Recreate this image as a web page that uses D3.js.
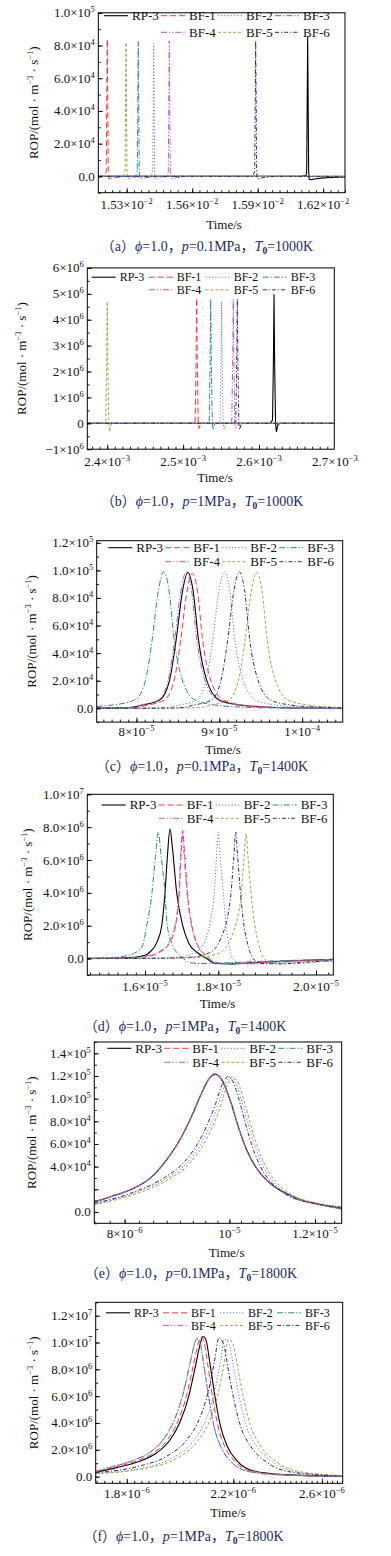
<!DOCTYPE html>
<html>
<head>
<meta charset="utf-8">
<script src="https://cdn.jsdelivr.net/npm/d3@7"></script>
<style>
body{margin:0;background:#fff;}
svg{display:block;}
svg text{font-family:"Liberation Serif","Times New Roman",Times,serif;}
svg text tspan.cjk{font-family:"Noto Sans CJK SC","Liberation Serif",serif;}
</style>
</head>
<body>
<svg id="fig" width="391" height="1556"></svg>
<script>
//----------------------------------------------------------------------------------------------------------------------------
//SERIES
//----------------------------------------------------------------------------------------------------------------------------
var names  = ["RP-3", "BF-1", "BF-2", "BF-3", "BF-4", "BF-5", "BF-6"];
var colors = ["#000000", "#f03c3c", "#5a78dc", "#2e8b7e", "#b35cc9", "#a6a24a", "#2c2c6c"];
var dashes = [null, "6,3", "1.2,2", "6,2,1.2,2", "6,2,1.2,2,1.2,2", "3,2", "4,2,1.2,2"];

//----------------------------------------------------------------------------------------------------------------------------
//DATA  (time in s, ROP in mol/(m3 s))
//----------------------------------------------------------------------------------------------------------------------------
// (a) 0.1MPa 1000K
var a_rp3 = [[1.517e-2,0],[1.6100e-2,0],[1.6122e-2,600],[1.61245e-2,4000],[1.6127e-2,50000],[1.6129e-2,85400],[1.6131e-2,50000],[1.61335e-2,3000],[1.6136e-2,-1800],[1.6145e-2,-2000],[1.616e-2,-1600],[1.619e-2,-1100],[1.623e-2,-700],[1.630e-2,-300]];
var a_bf1 = [[1.517e-2,0],[1.5195e-2,0],[1.5204e-2,1500],[1.52066e-2,4000],[1.5209e-2,50000],[1.52111e-2,83800],[1.5213e-2,50000],[1.52156e-2,2500],[1.5218e-2,-1200],[1.5227e-2,-1500],[1.5245e-2,-800],[1.528e-2,-200],[1.532e-2,0],[1.630e-2,0]];
var a_bf2 = [[1.517e-2,0],[1.5412e-2,0],[1.54192e-2,3000],[1.5422e-2,48000],[1.54237e-2,81300],[1.5426e-2,48000],[1.54282e-2,2500],[1.5431e-2,-1100],[1.544e-2,-1400],[1.5457e-2,-700],[1.5495e-2,-150],[1.554e-2,0],[1.630e-2,0]];
var a_bf3 = [[1.517e-2,0],[1.5341e-2,0],[1.53486e-2,3000],[1.5351e-2,48000],[1.53531e-2,82300],[1.5355e-2,48000],[1.53576e-2,2500],[1.536e-2,-1200],[1.5369e-2,-1500],[1.5386e-2,-800],[1.5425e-2,-150],[1.547e-2,0],[1.630e-2,0]];
var a_bf4 = [[1.517e-2,0],[1.5483e-2,0],[1.54906e-2,3000],[1.5493e-2,48000],[1.54951e-2,82900],[1.5497e-2,48000],[1.54996e-2,2500],[1.5502e-2,-1200],[1.5511e-2,-1500],[1.5528e-2,-800],[1.5566e-2,-150],[1.561e-2,0],[1.630e-2,0]];
var a_bf5 = [[1.517e-2,0],[1.5285e-2,0],[1.52925e-2,3000],[1.5295e-2,48000],[1.5297e-2,81700],[1.5299e-2,48000],[1.53015e-2,2500],[1.5304e-2,-1100],[1.5313e-2,-1400],[1.533e-2,-700],[1.537e-2,-150],[1.541e-2,0],[1.630e-2,0]];
var a_bf6 = [[1.517e-2,0],[1.5879e-2,0],[1.58863e-2,3000],[1.5889e-2,48000],[1.58908e-2,82900],[1.5893e-2,48000],[1.58953e-2,2500],[1.5898e-2,-1200],[1.5907e-2,-1500],[1.5924e-2,-800],[1.5962e-2,-150],[1.6e-2,0],[1.630e-2,0]];
var a_xticks = [1.53e-2, 1.56e-2, 1.59e-2, 1.62e-2];
var a_xlabels = [["1.53","−2"],["1.56","−2"],["1.59","−2"],["1.62","−2"]];
var a_yticks = [0, 2e4, 4e4, 6e4, 8e4, 1e5];
var a_ylabels = [["0.0",null],["2.0","4"],["4.0","4"],["6.0","4"],["8.0","4"],["1.0","5"]];

// (b) 1MPa 1000K
var b_rp3 = [[2.373e-3,0],[2.6148e-3,0],[2.6178e-3,0.12e6],[2.6190e-3,2.4e6],[2.6198e-3,4.98e6],[2.6206e-3,2.4e6],[2.6218e-3,0],[2.6230e-3,-0.33e6],[2.6248e-3,-0.05e6],[2.628e-3,0],[2.70e-3,0]];
var b_bf1 = [[2.373e-3,0],[2.5129e-3,0],[2.5159e-3,0.05e6],[2.5171e-3,2.4e6],[2.5179e-3,4.83e6],[2.5187e-3,2.4e6],[2.5199e-3,0],[2.5211e-3,-0.2e6],[2.5229e-3,-0.03e6],[2.526e-3,0],[2.70e-3,0]];
var b_bf2 = [[2.373e-3,0],[2.5458e-3,0],[2.5488e-3,0.05e6],[2.5500e-3,2.3e6],[2.5508e-3,4.70e6],[2.5516e-3,2.3e6],[2.5528e-3,0],[2.5540e-3,-0.22e6],[2.5558e-3,-0.03e6],[2.559e-3,0],[2.70e-3,0]];
var b_bf3 = [[2.373e-3,0],[2.5314e-3,0],[2.5344e-3,0.05e6],[2.5356e-3,2.4e6],[2.5364e-3,4.80e6],[2.5372e-3,2.4e6],[2.5384e-3,0],[2.5396e-3,-0.25e6],[2.5414e-3,-0.03e6],[2.5445e-3,0],[2.70e-3,0]];
var b_bf4 = [[2.373e-3,0],[2.5611e-3,0],[2.5641e-3,0.05e6],[2.5653e-3,2.4e6],[2.5661e-3,4.80e6],[2.5669e-3,2.4e6],[2.5681e-3,0],[2.5693e-3,-0.22e6],[2.5711e-3,-0.03e6],[2.5742e-3,0],[2.70e-3,0]];
var b_bf5 = [[2.373e-3,0],[2.3951e-3,0],[2.3981e-3,0.05e6],[2.3993e-3,2.3e6],[2.4001e-3,4.69e6],[2.4009e-3,2.3e6],[2.4021e-3,0],[2.4033e-3,-0.33e6],[2.4051e-3,-0.05e6],[2.4082e-3,0],[2.70e-3,0]];
var b_bf6 = [[2.373e-3,0],[2.5664e-3,0],[2.5694e-3,0.05e6],[2.5706e-3,2.4e6],[2.5714e-3,4.80e6],[2.5722e-3,2.4e6],[2.5734e-3,0],[2.5746e-3,-0.25e6],[2.5764e-3,-0.03e6],[2.5795e-3,0],[2.70e-3,0]];
var b_xticks = [2.4e-3, 2.5e-3, 2.6e-3, 2.7e-3];
var b_xlabels = [["2.4","−3"],["2.5","−3"],["2.6","−3"],["2.7","−3"]];
var b_yticks = [-1e6, 0, 1e6, 2e6, 3e6, 4e6, 5e6, 6e6];
var b_ylabels = [["−1","6"],["0",null],["1","6"],["2","6"],["3","6"],["4","6"],["5","6"],["6","6"]];

// (c) 0.1MPa 1400K
var c_rp3 = [[7.52e-5,200],[7.896e-5,500],[8.076e-5,2400],[8.28e-5,6000],[8.40e-5,20500],[8.48e-5,50000],[8.556e-5,85000],[8.619e-5,98500],[8.682e-5,86000],[8.748e-5,50000],[8.844e-5,21000],[9.0e-5,6000],[9.24e-5,2400],[9.6e-5,800],[1.0e-4,200],[1.049e-4,0]];
var c_bf1 = [[7.52e-5,100],[7.952e-5,400],[8.132e-5,2300],[8.336e-5,5900],[8.456e-5,20500],[8.533e-5,49000],[8.608e-5,84000],[8.672e-5,98000],[8.736e-5,85000],[8.80e-5,49000],[8.896e-5,20500],[9.052e-5,5900],[9.292e-5,2300],[9.632e-5,800],[1.0052e-4,200],[1.049e-4,-200]];
var c_bf2 = [[7.52e-5,0],[8.0e-5,100],[8.34e-5,400],[8.52e-5,2400],[8.724e-5,6000],[8.844e-5,21000],[8.921e-5,49500],[8.996e-5,85000],[9.06e-5,99000],[9.124e-5,86000],[9.188e-5,49500],[9.284e-5,21000],[9.44e-5,6000],[9.68e-5,2400],[1.002e-4,800],[1.049e-4,0]];
var c_bf3 = [[7.52e-5,1200],[7.608e-5,1800],[7.788e-5,3000],[7.992e-5,6500],[8.112e-5,21000],[8.189e-5,49500],[8.264e-5,85000],[8.328e-5,99000],[8.392e-5,86000],[8.456e-5,49500],[8.552e-5,21000],[8.708e-5,6000],[8.948e-5,2400],[9.288e-5,800],[9.708e-5,200],[1.049e-4,-200]];
var c_bf4 = [[7.52e-5,150],[7.88e-5,400],[8.06e-5,2400],[8.264e-5,6000],[8.384e-5,21000],[8.461e-5,49500],[8.536e-5,85000],[8.60e-5,99000],[8.664e-5,86000],[8.728e-5,49500],[8.824e-5,21000],[8.98e-5,6000],[9.22e-5,2400],[9.56e-5,800],[9.98e-5,200],[1.049e-4,-200]];
var c_bf5 = [[7.52e-5,0],[8.4e-5,100],[8.73e-5,400],[8.91e-5,2400],[9.114e-5,6000],[9.234e-5,21000],[9.311e-5,49500],[9.386e-5,85000],[9.45e-5,98500],[9.514e-5,86000],[9.578e-5,49500],[9.674e-5,21000],[9.83e-5,6000],[1.007e-4,2400],[1.041e-4,800],[1.049e-4,650]];
var c_bf6 = [[7.52e-5,0],[8.2e-5,100],[8.52e-5,400],[8.70e-5,2400],[8.904e-5,6000],[9.024e-5,21000],[9.101e-5,49500],[9.176e-5,85000],[9.24e-5,99000],[9.304e-5,86000],[9.368e-5,49500],[9.464e-5,21000],[9.62e-5,6000],[9.86e-5,2400],[1.02e-4,800],[1.049e-4,200]];
var c_xticks = [8e-5, 9e-5, 1e-4];
var c_xlabels = [["8","−5"],["9","−5"],["1","−4"]];
var c_yticks = [0, 2e4, 4e4, 6e4, 8e4, 1e5, 1.2e5];
var c_ylabels = [["0.0",null],["2.0","4"],["4.0","4"],["6.0","4"],["8.0","4"],["1.0","5"],["1.2","5"]];

// (d) 1MPa 1400K  (the printed time axis is stretched beyond 1.8e-5)
var d_rp3 = [[1.4426e-5,1e4],[1.5045e-5,2e4],[1.5591e-5,6e4],[1.6e-5,2e5],[1.6136e-5,4e5],[1.6327e-5,1.0e6],[1.6456e-5,2.0e6],[1.6546e-5,4.0e6],[1.6614e-5,6.3e6],[1.6682e-5,7.9e6],[1.675e-5,6.7e6],[1.6865e-5,4.0e6],[1.7029e-5,2.0e6],[1.7201e-5,0.9e6],[1.7411e-5,0.4e6],[1.7684e-5,0],[1.791e-5,-0.3e6],[1.82395e-5,-0.32e6],[1.88536e-5,-0.22e6],[1.96725e-5,-0.12e6],[2.03542e-5,-0.05e6]];
var d_bf1 = [[1.4426e-5,5e3],[1.5591e-5,3e4],[1.6136e-5,1.5e5],[1.6409e-5,4e5],[1.6628e-5,8e5],[1.6791e-5,1.6e6],[1.6873e-5,2.5e6],[1.6936e-5,4.0e6],[1.6982e-5,6.2e6],[1.7029e-5,7.8e6],[1.7078e-5,6.5e6],[1.716e-5,4.0e6],[1.7282e-5,2.0e6],[1.7446e-5,0.8e6],[1.7664e-5,0.2e6],[1.7883e-5,-0.2e6],[1.81372e-5,-0.3e6],[1.86489e-5,-0.28e6],[1.94678e-5,-0.15e6],[2.03542e-5,-0.06e6]];
var d_bf2 = [[1.4426e-5,0],[1.6136e-5,2e4],[1.6819e-5,8e4],[1.7228e-5,2.5e5],[1.7501e-5,6e5],[1.7692e-5,1.4e6],[1.7801e-5,2.5e6],[1.7891e-5,4.0e6],[1.7951e-5,6.2e6],[1.8e-5,7.7e6],[1.80348e-5,6.3e6],[1.81024e-5,4.0e6],[1.81576e-5,2.0e6],[1.8219e-5,0.8e6],[1.83009e-5,0],[1.84442e-5,-0.3e6],[1.87513e-5,-0.33e6],[1.94678e-5,-0.22e6],[2.03542e-5,-0.1e6]];
var d_bf3 = [[1.4426e-5,2e4],[1.5045e-5,6e4],[1.5454e-5,1.5e5],[1.5727e-5,3.5e5],[1.5918e-5,7e5],[1.6046e-5,2.0e6],[1.6191e-5,4.0e6],[1.6286e-5,6.2e6],[1.6363e-5,7.7e6],[1.6437e-5,6.3e6],[1.6546e-5,4.0e6],[1.6608e-5,2.0e6],[1.6737e-5,0.9e6],[1.7001e-5,0.1e6],[1.7228e-5,-0.25e6],[1.7501e-5,-0.3e6],[1.82395e-5,-0.25e6],[1.90584e-5,-0.15e6],[2.03542e-5,-0.05e6]];
var d_bf4 = [[1.4426e-5,5e3],[1.5591e-5,4e4],[1.6136e-5,2e5],[1.6409e-5,4.5e5],[1.6628e-5,9e5],[1.6791e-5,1.8e6],[1.6873e-5,2.7e6],[1.6928e-5,4.2e6],[1.6974e-5,6.3e6],[1.7015e-5,7.7e6],[1.7064e-5,6.4e6],[1.7146e-5,4.0e6],[1.7269e-5,2.0e6],[1.7432e-5,0.8e6],[1.7637e-5,0.2e6],[1.7855e-5,-0.2e6],[1.81167e-5,-0.3e6],[1.86489e-5,-0.27e6],[1.94678e-5,-0.15e6],[2.03542e-5,-0.06e6]];
var d_bf5 = [[1.4426e-5,0],[1.6682e-5,2e4],[1.7501e-5,8e4],[1.791e-5,2.5e5],[1.81372e-5,6e5],[1.82805e-5,1.4e6],[1.8393e-5,2.5e6],[1.84749e-5,4.0e6],[1.85261e-5,6.2e6],[1.8567e-5,7.6e6],[1.8608e-5,6.2e6],[1.86694e-5,4.0e6],[1.87513e-5,2.0e6],[1.88332e-5,0.8e6],[1.89355e-5,0],[1.90993e-5,-0.3e6],[1.94678e-5,-0.32e6],[2.00819e-5,-0.2e6],[2.03542e-5,-0.15e6]];
var d_bf6 = [[1.4426e-5,0],[1.6409e-5,2e4],[1.7228e-5,8e4],[1.7637e-5,2.5e5],[1.791e-5,6e5],[1.80757e-5,1.4e6],[1.81883e-5,2.5e6],[1.826e-5,4.0e6],[1.83173e-5,6.2e6],[1.83562e-5,7.7e6],[1.8393e-5,6.3e6],[1.84545e-5,4.0e6],[1.85261e-5,2.0e6],[1.8608e-5,0.8e6],[1.87103e-5,0],[1.88946e-5,-0.3e6],[1.92631e-5,-0.32e6],[1.98772e-5,-0.2e6],[2.03542e-5,-0.12e6]];
var d_xticks = [1.6e-5, 1.8e-5, 2.0e-5];
var d_xlabels = [["1.6","−5"],["1.8","−5"],["2.0","−5"]];
var d_yticks = [0, 2e6, 4e6, 6e6, 8e6, 1e7];
var d_ylabels = [["0.0",null],["2.0","6"],["4.0","6"],["6.0","6"],["8.0","6"],["1.0","7"]];

// (e) 0.1MPa 1800K
var e_rp3 = [[7.5e-6,8900],[7.754e-6,13300],[8.15e-6,20800],[8.444e-6,29600],[8.748e-6,46000],[9.0e-6,63700],[9.226e-6,84400],[9.426e-6,105000],[9.594e-6,118600],[9.696e-6,121500],[9.835e-6,117000],[1.0011e-5,99300],[1.0189e-5,75600],[1.0373e-5,54900],[1.0596e-5,38600],[1.0824e-5,28200],[1.1214e-5,17800],[1.162e-5,11000],[1.2039e-5,7400],[1.2696e-5,3000]];
var e_bf1 = [[7.5e-6,9200],[7.754e-6,13500],[8.15e-6,21000],[8.444e-6,29800],[8.748e-6,46300],[9.0e-6,64000],[9.226e-6,84800],[9.426e-6,105500],[9.594e-6,119200],[9.696e-6,122000],[9.835e-6,117300],[1.0011e-5,99300],[1.0189e-5,75400],[1.0373e-5,54700],[1.0596e-5,38400],[1.0824e-5,28000],[1.1214e-5,17600],[1.162e-5,10900],[1.2039e-5,7200],[1.2696e-5,2800]];
var e_bf2 = [[7.5e-6,7000],[8.15e-6,16300],[8.748e-6,29600],[9.129e-6,43000],[9.458e-6,63700],[9.731e-6,90400],[9.905e-6,112600],[1.0011e-5,119500],[1.0118e-5,115600],[1.0298e-5,93300],[1.0484e-5,66700],[1.0709e-5,43000],[1.0977e-5,26700],[1.1375e-5,14800],[1.2039e-5,7400],[1.2696e-5,4400]];
var e_bf3 = [[7.5e-6,8700],[7.754e-6,13100],[8.15e-6,20600],[8.444e-6,29400],[8.748e-6,45800],[9.0e-6,63500],[9.226e-6,84200],[9.426e-6,104800],[9.594e-6,118300],[9.696e-6,121000],[9.835e-6,116600],[1.0011e-5,98800],[1.0189e-5,75000],[1.0373e-5,54300],[1.0596e-5,38000],[1.0824e-5,27600],[1.1214e-5,17200],[1.162e-5,10500],[1.2039e-5,6900],[1.2696e-5,2500]];
var e_bf4 = [[7.5e-6,8800],[7.754e-6,13200],[8.15e-6,20700],[8.444e-6,29500],[8.748e-6,45900],[9.0e-6,63600],[9.226e-6,84300],[9.426e-6,104900],[9.594e-6,118400],[9.696e-6,121200],[9.835e-6,116800],[1.0011e-5,99000],[1.0189e-5,75200],[1.0373e-5,54500],[1.0596e-5,38200],[1.0824e-5,27800],[1.1214e-5,17400],[1.162e-5,10700],[1.2039e-5,7000],[1.2696e-5,2600]];
var e_bf5 = [[7.5e-6,6500],[8.185e-6,15800],[8.785e-6,28800],[9.168e-6,42000],[9.498e-6,62000],[9.772e-6,88500],[9.947e-6,111000],[1.0054e-5,119000],[1.0161e-5,116000],[1.0342e-5,94500],[1.0529e-5,68000],[1.0755e-5,44000],[1.1024e-5,27500],[1.1423e-5,15200],[1.209e-5,7600],[1.2696e-5,4600]];
var e_bf6 = [[7.5e-6,7500],[8.115e-6,16800],[8.711e-6,30500],[9.09e-6,44500],[9.418e-6,66000],[9.69e-6,93000],[9.863e-6,114000],[9.968e-6,119500],[1.0075e-5,115000],[1.0254e-5,92000],[1.0439e-5,65000],[1.0663e-5,41500],[1.093e-5,26000],[1.1327e-5,14500],[1.1988e-5,7400],[1.2696e-5,4200]];
var e_xticks = [8e-6, 1e-5, 1.2e-5];
var e_xlabels = [["8","−6"],[null,"−5"],["1.2","−5"]];
var e_yticks = [0, 2e4, 4e4, 6e4, 8e4, 1e5, 1.2e5, 1.4e5];
var e_ylabels = [["0.0",null], null, ["4.0","4"],["6.0","4"],["8.0","4"],["1.0","5"],["1.2","5"],["1.4","5"]];

// (f) 1MPa 1800K
var f_rp3 = [[1.6974e-6,3.4e5],[1.7661e-6,6.7e5],[1.8457e-6,1.16e6],[1.905e-6,1.78e6],[1.9539e-6,2.77e6],[1.9911e-6,4.13e6],[2.0227e-6,5.99e6],[2.0483e-6,8.22e6],[2.0679e-6,9.96e6],[2.0768e-6,1.045e7],[2.0875e-6,1.03e7],[2.1073e-6,8.2e6],[2.1273e-6,5.75e6],[2.1475e-6,3.76e6],[2.175e-6,2.27e6],[2.2165e-6,1.16e6],[2.2872e-6,4.2e5],[2.421e-6,1.5e5],[2.7039e-6,2e4]];
var f_bf1 = [[1.6974e-6,3.6e5],[1.7584e-6,6.9e5],[1.8377e-6,1.2e6],[1.8967e-6,1.82e6],[1.9454e-6,2.8e6],[1.9825e-6,4.15e6],[2.0139e-6,6.0e6],[2.0394e-6,8.2e6],[2.0589e-6,9.9e6],[2.0678e-6,1.04e7],[2.0784e-6,1.025e7],[2.0982e-6,8.15e6],[2.1181e-6,5.7e6],[2.1382e-6,3.7e6],[2.1656e-6,2.22e6],[2.2069e-6,1.13e6],[2.2773e-6,4.1e5],[2.4105e-6,1.5e5],[2.7039e-6,2e4]];
var f_bf2 = [[1.6974e-6,2.3e5],[1.8657e-6,7e5],[1.9625e-6,1.4e6],[2.0385e-6,2.6e6],[2.0903e-6,4.3e6],[2.1233e-6,6.3e6],[2.1476e-6,8.6e6],[2.1639e-6,1.025e7],[2.182e-6,9.9e6],[2.2053e-6,7.75e6],[2.2262e-6,5.8e6],[2.2546e-6,3.8e6],[2.2978e-6,2.3e6],[2.3714e-6,1.06e6],[2.4785e-6,3.5e5],[2.7039e-6,6e4]];
var f_bf3 = [[1.6974e-6,3.8e5],[1.7462e-6,7e5],[1.8249e-6,1.22e6],[1.8835e-6,1.85e6],[1.9318e-6,2.85e6],[1.9686e-6,4.2e6],[1.9999e-6,6.05e6],[2.0252e-6,8.2e6],[2.0446e-6,9.85e6],[2.0534e-6,1.03e7],[2.0639e-6,1.015e7],[2.0835e-6,8.05e6],[2.1033e-6,5.6e6],[2.1232e-6,3.62e6],[2.1504e-6,2.18e6],[2.1915e-6,1.1e6],[2.2614e-6,4e5],[2.3937e-6,1.4e5],[2.7039e-6,1e4]];
var f_bf4 = [[1.6974e-6,3.9e5],[1.7462e-6,7.2e5],[1.8249e-6,1.24e6],[1.8835e-6,1.87e6],[1.9318e-6,2.88e6],[1.9686e-6,4.25e6],[1.9999e-6,6.1e6],[2.0252e-6,8.25e6],[2.044e-6,9.85e6],[2.052e-6,1.028e7],[2.063e-6,1.01e7],[2.0835e-6,8.0e6],[2.1033e-6,5.55e6],[2.1232e-6,3.6e6],[2.1504e-6,2.16e6],[2.1915e-6,1.09e6],[2.2614e-6,3.9e5],[2.3937e-6,1.3e5],[2.7039e-6,1e4]];
var f_bf5 = [[1.6974e-6,2.2e5],[1.8788e-6,6.8e5],[1.9762e-6,1.35e6],[2.0528e-6,2.55e6],[2.105e-6,4.2e6],[2.1382e-6,6.2e6],[2.1626e-6,8.5e6],[2.1791e-6,1.025e7],[2.1973e-6,9.95e6],[2.2208e-6,7.9e6],[2.2418e-6,5.95e6],[2.2704e-6,3.9e6],[2.3139e-6,2.35e6],[2.388e-6,1.08e6],[2.4959e-6,3.6e5],[2.7039e-6,7e4]];
var f_bf6 = [[1.6974e-6,2.9e5],[1.8457e-6,8e5],[1.9414e-6,1.53e6],[2.0166e-6,2.77e6],[2.0679e-6,4.5e6],[2.1005e-6,6.49e6],[2.1245e-6,8.72e6],[2.1407e-6,1.035e7],[2.1586e-6,9.96e6],[2.1816e-6,7.73e6],[2.2023e-6,5.75e6],[2.2304e-6,3.76e6],[2.2731e-6,2.27e6],[2.3459e-6,1.04e6],[2.4519e-6,3.4e5],[2.7039e-6,4e4]];
var f_xticks = [1.8e-6, 2.2e-6, 2.6e-6];
var f_xlabels = [["1.8","−6"],["2.2","−6"],["2.6","−6"]];
var f_yticks = [0, 2e6, 4e6, 6e6, 8e6, 1e7, 1.2e7];
var f_ylabels = [["0.0",null],["2.0","6"],["4.0","6"],["6.0","6"],["8.0","6"],["1.0","7"],["1.2","7"]];

//----------------------------------------------------------------------------------------------------------------------------
//PANEL LAYOUT
//----------------------------------------------------------------------------------------------------------------------------
function minor(start, step, stop){
	return d3.range(0, Math.round((stop - start) / step) + 1).map(function(i){ return start + i * step; });
}

var panels = [
	{id:"a", box:[98.3, 345, 12.8, 192.7], log:false, xDomain:[1.517e-2, 1.630e-2], yDomain:[-1e4, 1e5],
	 xTicks:a_xticks, xLabels:a_xlabels, xMinor:minor(1.52e-2, 1e-4/3, 1.63e-2), yTicks:a_yticks, yLabels:a_ylabels, yMinor:minor(-1e4, 1e4, 1e5),
	 series:[a_rp3, a_bf1, a_bf2, a_bf3, a_bf4, a_bf5, a_bf6], curve:d3.curveLinear,
	 leg:[104, 15.7, 16.6], xLabY:209.2, xTitle:[224, 229], yTitleX:37.5, cap:[207, 251], letter:"a", p:"0.1", T:"1000"},
	{id:"b", box:[87.3, 334.3, 267.9, 449.2], log:false, xDomain:[2.3738e-3, 2.6992e-3], yDomain:[-1e6, 6e6],
	 xTicks:b_xticks, xLabels:b_xlabels, xMinor:minor(2.38e-3, 1e-5, 2.69e-3), yTicks:b_yticks, yLabels:b_ylabels, yMinor:minor(-1e6, 5e5, 6e6),
	 series:[b_rp3, b_bf1, b_bf2, b_bf3, b_bf4, b_bf5, b_bf6], curve:d3.curveLinear,
	 leg:[91.7, 277.2, 12.6], xLabY:466, xTitle:[215, 482], yTitleX:26.2, cap:[202, 506], letter:"b", p:"1", T:"1000"},
	{id:"c", box:[96.7, 342.7, 540.7, 722.1], log:false, xDomain:[7.52e-5, 1.049e-4], yDomain:[-1e4, 1.215e5],
	 xTicks:c_xticks, xLabels:c_xlabels, xMinor:minor(7.6e-5, 1e-6, 1.04e-4), yTicks:c_yticks, yLabels:c_ylabels, yMinor:minor(-1e4, 1e4, 1.2e5),
	 series:[c_rp3, c_bf1, c_bf2, c_bf3, c_bf4, c_bf5, c_bf6], curve:d3.curveMonotoneX,
	 leg:[108.3, 547.7, 14], xLabY:736, xTitle:[223, 754], yTitleX:36.2, cap:[202, 771], letter:"c", p:"0.1", T:"1400"},
	{id:"d", box:[87.3, 333.3, 794.3, 975], log:false, xDomain:[1.4426e-5, 1.8e-5, 2.03542e-5], xRange:[87.3, 218.3, 333.3], yDomain:[-1e6, 1e7],
	 xTicks:d_xticks, xLabels:d_xlabels, xMinor:minor(1.45e-5, 2.5e-7, 2.025e-5), yTicks:d_yticks, yLabels:d_ylabels, yMinor:minor(-1e6, 1e6, 1e7),
	 series:[d_rp3, d_bf1, d_bf2, d_bf3, d_bf4, d_bf5, d_bf6], curve:d3.curveMonotoneX,
	 leg:[101.7, 805, 13.3], xLabY:991, xTitle:[217.5, 1008], yTitleX:31.8, cap:[185, 1031], letter:"d", p:"1", T:"1400"},
	{id:"e", box:[94.3, 341.7, 1042, 1223.3], log:true, xDomain:[7.5e-6, 1.27e-5], yDomain:[-1e4, 1.5e5],
	 xTicks:e_xticks, xLabels:e_xlabels, xMinor:minor(7.5e-6, 2.5e-7, 1.25e-5), yTicks:e_yticks, yLabels:e_ylabels, yMinor:minor(-1e4, 1e4, 1.5e5),
	 series:[e_rp3, e_bf1, e_bf2, e_bf3, e_bf4, e_bf5, e_bf6], curve:d3.curveMonotoneX,
	 leg:[107.3, 1048.3, 14], xLabY:1237.5, xTitle:[226.7, 1257], yTitleX:36.2, cap:[191, 1278], letter:"e", p:"0.1", T:"1800"},
	{id:"f", box:[95.7, 342.7, 1302.3, 1483.3], log:true, xDomain:[1.6974e-6, 2.7039e-6], yDomain:[-5e5, 1.3e7],
	 xTicks:f_xticks, xLabels:f_xlabels, xMinor:minor(1.7e-6, 2.5e-8, 2.7e-6), yTicks:f_yticks, yLabels:f_ylabels, yMinor:minor(0, 1e6, 1.3e7),
	 series:[f_rp3, f_bf1, f_bf2, f_bf3, f_bf4, f_bf5, f_bf6], curve:d3.curveMonotoneX,
	 leg:[106, 1312.8, 12.6], xLabY:1497.5, xTitle:[228, 1517], yTitleX:37.8, cap:[183.5, 1541], letter:"f", p:"1", T:"1800"}
];

//----------------------------------------------------------------------------------------------------------------------------
//DRAWING
//----------------------------------------------------------------------------------------------------------------------------
var svg = d3.select("#fig");

function powerLabel(sel, lab){
	if (lab[1] === null) { sel.text(lab[0]); return; }
	sel.append("tspan").text(lab[0] === null ? "10" : lab[0] + "×10");
	sel.append("tspan").attr("dy", -5).attr("font-size", 8.5).text(lab[1]);
}

function drawPanel(p){
	var L = p.box[0], R = p.box[1], T = p.box[2], B = p.box[3];
	var xEnd = p.xDomain[p.xDomain.length - 1];
	var x = (p.log ? d3.scaleLog() : d3.scaleLinear()).domain(p.xDomain).range(p.xRange || [L, R]);
	var y = d3.scaleLinear().domain(p.yDomain).range([B, T]);
	var g = svg.append("g").attr("class", "panel-" + p.id);

	svg.append("clipPath").attr("id", "clip-" + p.id)
		.append("rect").attr("x", L).attr("y", T).attr("width", R - L).attr("height", B - T);

	var line = d3.line().x(function(d){ return x(d[0]); }).y(function(d){ return y(d[1]); }).curve(p.curve);
	var lines = g.append("g").attr("clip-path", "url(#clip-" + p.id + ")");
	p.series.forEach(function(s, i){
		lines.append("path").datum(s)
			.attr("d", line)
			.attr("fill", "none")
			.attr("stroke", colors[i])
			.attr("stroke-width", i === 0 ? 1.1 : 1)
			.attr("stroke-dasharray", dashes[i]);
	});

	// axes: ticks inward
	var gxMin = g.append("g").attr("transform", "translate(0," + B + ")")
		.call(d3.axisBottom(x).tickValues(p.xMinor.filter(function(v){ return v >= p.xDomain[0] && v <= xEnd; }))
			.tickSize(-2.5).tickSizeOuter(0).tickFormat(""));
	var gx = g.append("g").attr("transform", "translate(0," + B + ")")
		.call(d3.axisBottom(x).tickValues(p.xTicks.filter(function(v){ return v <= xEnd * 1.0001; }))
			.tickSize(-4.5).tickSizeOuter(0).tickFormat(""));
	var gyMin = g.append("g").attr("transform", "translate(" + L + ",0)")
		.call(d3.axisLeft(y).tickValues(p.yMinor).tickSize(-2.5).tickSizeOuter(0).tickFormat(""));
	var gy = g.append("g").attr("transform", "translate(" + L + ",0)")
		.call(d3.axisLeft(y).tickValues(p.yTicks).tickSize(-4.5).tickSizeOuter(0).tickFormat(""));
	[gxMin, gx, gyMin, gy].forEach(function(a){
		a.select(".domain").remove();
		a.selectAll(".tick line").attr("stroke", "#000").attr("stroke-width", 0.9);
	});

	// tick labels
	p.xTicks.forEach(function(v, i){
		var t = g.append("text").attr("x", x(v)).attr("y", p.xLabY)
			.attr("text-anchor", "middle").attr("font-size", 13).attr("fill", "#111");
		powerLabel(t, p.xLabels[i]);
	});
	p.yTicks.forEach(function(v, i){
		if (!p.yLabels[i]) return;
		var t = g.append("text").attr("x", L - 3.5).attr("y", y(v) + 4.5)
			.attr("text-anchor", "end").attr("font-size", 13).attr("fill", "#111");
		powerLabel(t, p.yLabels[i]);
	});

	// frame
	g.append("rect").attr("x", L).attr("y", T).attr("width", R - L).attr("height", B - T)
		.attr("fill", "none").attr("stroke", "#000").attr("stroke-width", 1);

	// axis titles
	g.append("text").attr("x", p.xTitle[0]).attr("y", p.xTitle[1])
		.attr("text-anchor", "middle").attr("font-size", 13).attr("fill", "#111").text("Time/s");
	var yt = g.append("text")
		.attr("transform", "translate(" + p.yTitleX + "," + ((T + B) / 2) + ") rotate(-90)")
		.attr("text-anchor", "middle").attr("font-size", 13).attr("fill", "#111");
	yt.append("tspan").text("ROP/(mol · m");
	yt.append("tspan").attr("dy", -5).attr("font-size", 8.5).text("−3");
	yt.append("tspan").attr("dy", 5).text(" · s");
	yt.append("tspan").attr("dy", -5).attr("font-size", 8.5).text("−1");
	yt.append("tspan").attr("dy", 5).text(")");

	// legend: 4 in the first row, 3 in the second under columns 2-4
	names.forEach(function(n, i){
		var col = i < 4 ? i : i - 3, row = i < 4 ? 0 : 1;
		var lx = p.leg[0] + col * 57, ly = p.leg[1] + row * p.leg[2];
		g.append("line").attr("x1", lx).attr("x2", lx + 24).attr("y1", ly).attr("y2", ly)
			.attr("stroke", colors[i]).attr("stroke-width", i === 0 ? 1.1 : 1).attr("stroke-dasharray", dashes[i]);
		g.append("text").attr("x", lx + 28).attr("y", ly + 4.2)
			.attr("font-size", p.leg[2] < 13 ? 12 : 13).attr("fill", "#111").text(n);
	});

	// caption
	var c = svg.append("text").attr("x", p.cap[0]).attr("y", p.cap[1])
		.attr("text-anchor", "middle").attr("font-size", 14).attr("fill", "#1d2b5b");
	c.append("tspan").attr("class", "cjk").text("（");
	c.append("tspan").text(p.letter);
	c.append("tspan").attr("class", "cjk").text("）");
	c.append("tspan").attr("font-style", "italic").text("ϕ");
	c.append("tspan").text("=1.0");
	c.append("tspan").attr("class", "cjk").text("，");
	c.append("tspan").attr("font-style", "italic").text("p");
	c.append("tspan").text("=" + p.p + "MPa");
	c.append("tspan").attr("class", "cjk").text("，");
	c.append("tspan").attr("font-style", "italic").text("T");
	c.append("tspan").attr("dy", 3).attr("font-size", 9.5).attr("font-weight", "bold").text("0");
	c.append("tspan").attr("dy", -3).text("=" + p.T + "K");
}

panels.forEach(drawPanel);
</script>
</body>
</html>
